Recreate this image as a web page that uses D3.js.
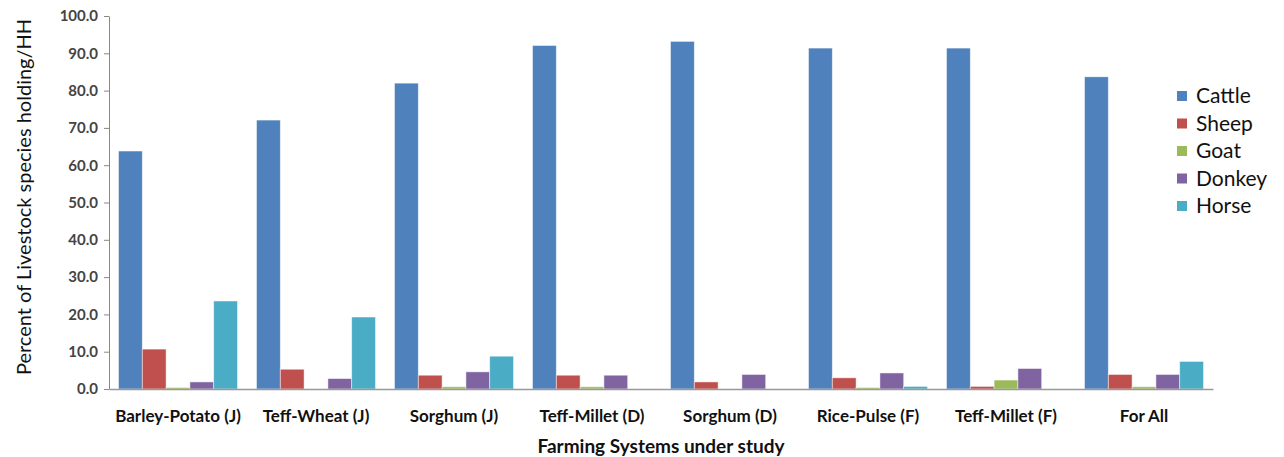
<!DOCTYPE html>
<html><head><meta charset="utf-8">
<script src="https://cdn.jsdelivr.net/npm/d3@7"></script>
<style>body{margin:0;background:#fff}svg{display:block}</style>
</head><body><svg id="c" width="1284" height="457"></svg>
<script>
const categories = ["Barley-Potato (J)","Teff-Wheat (J)","Sorghum (J)","Teff-Millet (D)","Sorghum (D)","Rice-Pulse (F)","Teff-Millet (F)","For All"];
const seriesNames = ["Cattle","Sheep","Goat","Donkey","Horse"];
const cattle = [63.8, 72.1, 82.0, 92.1, 93.2, 91.4, 91.4, 83.7];
const sheep  = [10.7, 5.3, 3.7, 3.7, 1.9, 3.0, 0.7, 3.9];
const goat   = [0.4, 0.0, 0.6, 0.6, 0.0, 0.4, 2.4, 0.6];
const donkey = [1.9, 2.8, 4.6, 3.7, 3.9, 4.3, 5.5, 3.9];
const horse  = [23.6, 19.3, 8.8, 0.0, 0.0, 0.7, 0.0, 7.4];
const yTicks = [0,10,20,30,40,50,60,70,80,90,100];
const colors = ["#4F81BD","#C0504D","#9BBB59","#8064A2","#4BACC6"];
const seriesValues = [cattle, sheep, goat, donkey, horse];

const FONT = "Lato, 'Open Sans', sans-serif";
const svg = d3.select("#c");
const L = 109, R = 1213, T = 16, B = 389;
const pad = 19/138;
const x0 = d3.scaleBand().domain(categories).range([L, R]).paddingInner(pad).paddingOuter(pad/2);
const x1 = d3.scaleBand().domain(seriesNames).range([0, x0.bandwidth()]);
const y = d3.scaleLinear().domain([0,100]).range([B, T]);
const color = d3.scaleOrdinal().domain(seriesNames).range(colors);

// y axis
const yAxis = d3.axisLeft(y).tickValues(yTicks).tickFormat(d3.format(".1f")).tickSize(5).tickSizeOuter(0);
const ga = svg.append("g").attr("transform", `translate(${L},0)`).call(yAxis);
ga.select(".domain").attr("stroke", "#888");
ga.selectAll(".tick line").attr("stroke", "#888");
ga.selectAll(".tick text").attr("font-family", FONT).attr("font-size", 15).attr("font-weight","bold").attr("fill","#444").attr("x",-11);

// bars
const groups = svg.append("g").selectAll("g").data(categories).join("g")
  .attr("transform", d => `translate(${x0(d)},0)`);
groups.selectAll("rect").data((d,i) => seriesNames.map((s,j) => ({s, v: seriesValues[j][i]})))
  .join("rect")
  .attr("x", d => x1(d.s)).attr("width", x1.bandwidth())
  .attr("y", d => y(d.v)).attr("height", d => y(0) - y(d.v))
  .attr("fill", d => color(d.s))
  .attr("stroke", "rgba(255,255,255,0.6)").attr("stroke-width", 0.8);

// x axis
const xAxis = d3.axisBottom(x0).tickSize(0).tickSizeOuter(0);
const gx = svg.append("g").attr("transform", `translate(0,${B})`).call(xAxis);
gx.select(".domain").attr("stroke", "#999").attr("stroke-width", 1.5);
gx.selectAll(".tick text").attr("font-family", FONT).attr("font-size", 17).attr("font-weight","bold").attr("fill","#111").attr("dy", 0).attr("y", 33);

// axis titles
svg.append("text").attr("x", 661).attr("y", 453).attr("text-anchor","middle")
  .attr("font-family", FONT).attr("font-size", 19).attr("font-weight","bold").attr("fill","#111")
  .text("Farming Systems under study");
svg.append("text").attr("transform", "translate(31,197) rotate(-90)").attr("text-anchor","middle")
  .attr("font-family", FONT).attr("font-size", 20).attr("fill","#111")
  .text("Percent of Livestock species holding/HH");

// legend
const lg = svg.append("g").selectAll("g").data(seriesNames).join("g")
  .attr("transform", (d,i) => `translate(1177,${96 + i*27.5})`);
lg.append("rect").attr("x",0).attr("y",-5).attr("width",10).attr("height",10).attr("fill", d => color(d));
lg.append("text").attr("x", 19).attr("y", 0).attr("dy","0.35em")
  .attr("font-family", FONT).attr("font-size", 21).attr("fill","#111").text(d => d);
</script></body></html>
